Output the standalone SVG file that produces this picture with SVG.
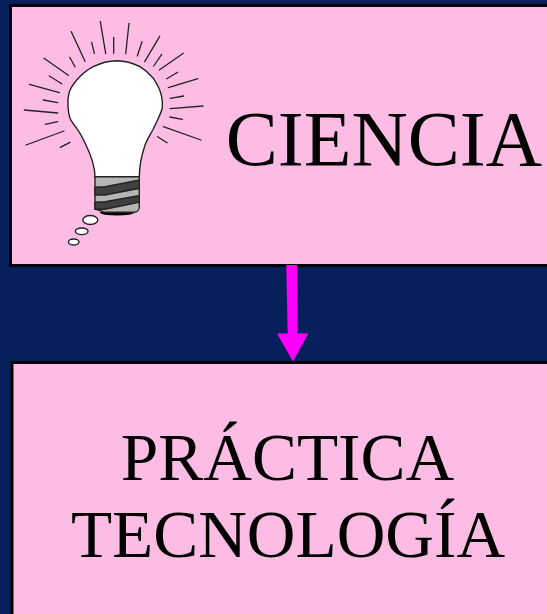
<svg xmlns="http://www.w3.org/2000/svg" width="547" height="614" viewBox="0 0 547 614">
<style>
.box{fill:#fdbce3;stroke:#000;stroke-width:3}
.t{font-family:"Liberation Serif","Times New Roman",serif;fill:#000;text-anchor:middle}
.ray{stroke:#222;stroke-width:1.3;fill:none;stroke-linecap:round}
.ln{stroke:#222;stroke-width:1.4}
</style>
<rect width="547" height="614" fill="#071f5a"/>
<g id="node-ciencia">
<rect class="box" x="10.500" y="5.500" width="545" height="260"/>
<g id="bulb">
<path class="ray" d="M100.300,21.300L105.700,53.700M113.700,37.300V53.300M129,23.300L125.700,53.700M142,41.700L137.300,56M159.700,36.300L144.700,61.700M161.700,54.300L153.700,66M183.300,53.300L159.300,70M177.700,72.300L166.700,78.700M198,78.700L168.300,87.700M183.700,96L170.300,98.300M203,106L170.300,108.700M170,117L182.300,119.300M163.300,126.700L201,140M157.700,136.700L167,142.700M91.700,42.300L94.300,53.300M71.300,31.700L85,61.300M69.700,57.300L75,66.700M44,58.300L68.300,75.300M49.300,76L61.700,83.700M29.300,84.300L59.300,92.700M43.300,100L57.700,102.700M24.300,110L57.700,113M45.300,124.300L57.700,121.700M64,131L26,145M70,142.300L60.300,147.300"/>
<path d="M116.700,60.700C108,60.800 100.500,63 93.300,66.700C87.500,69.700 82.500,73.800 78.300,78.300C74.500,82.500 71.200,87 69.300,91.700C67.900,96.500 67.600,101.800 68,106.700C68.300,111 69,115 70,118.300C71.700,122 74,125 76.700,128.300C79.500,132 82.500,137.500 85,143C89,151 95,163 95,177H139.300C139.300,165 142,154 145,145C147,140 150,135 152.700,130C154.200,127 155.500,124.300 156.700,121.700C159,117 161.200,112.500 162.300,108.300C162.600,104 162.400,100.300 161.700,96.700C160.300,90 157.300,84 153.300,78.300C149.500,74 145.300,70 140,66.700C133,63 125,60.800 116.700,60.700Z" fill="#fff" class="ln"/>
<ellipse cx="117" cy="212.800" rx="17" ry="2.700" fill="#000"/>
<path d="M95,176.700H139.300V207C139.300,210 137,212.300 134,212.300H105L95,209Z" fill="#b5b5b5" class="ln"/>
<path d="M95,187.300L105,186.700L139.300,180V188.300L105,195H95ZM95,202.300L105,201.700L139.300,195.700V202.300L105,209.300H95Z" fill="#404040" class="ln"/>
<ellipse cx="90.300" cy="220" rx="7.500" ry="4.500" fill="#fff" class="ln"/>
<ellipse cx="81.700" cy="231.300" rx="6.300" ry="3.300" fill="#fff" class="ln"/>
<ellipse cx="73.700" cy="242" rx="5.300" ry="3" fill="#fff" class="ln"/>
</g>
<text class="t" x="384" y="165" font-size="78">CIENCIA</text>
</g>
<g id="node-practica">
<rect class="box" x="12" y="362.500" width="545" height="260"/>
<text class="t" x="287.500" y="480" font-size="67.400">PRÁCTICA</text>
<text class="t" x="288" y="557" font-size="67.400">TECNOLOGÍA</text>
</g>
<g id="connectors">
<polygon points="286.300,265 297,265 297.700,333.500 308.300,333.500 293,361.500 277,333.500 287.700,333.500" fill="#ff00ff"/>
</g>
</svg>
